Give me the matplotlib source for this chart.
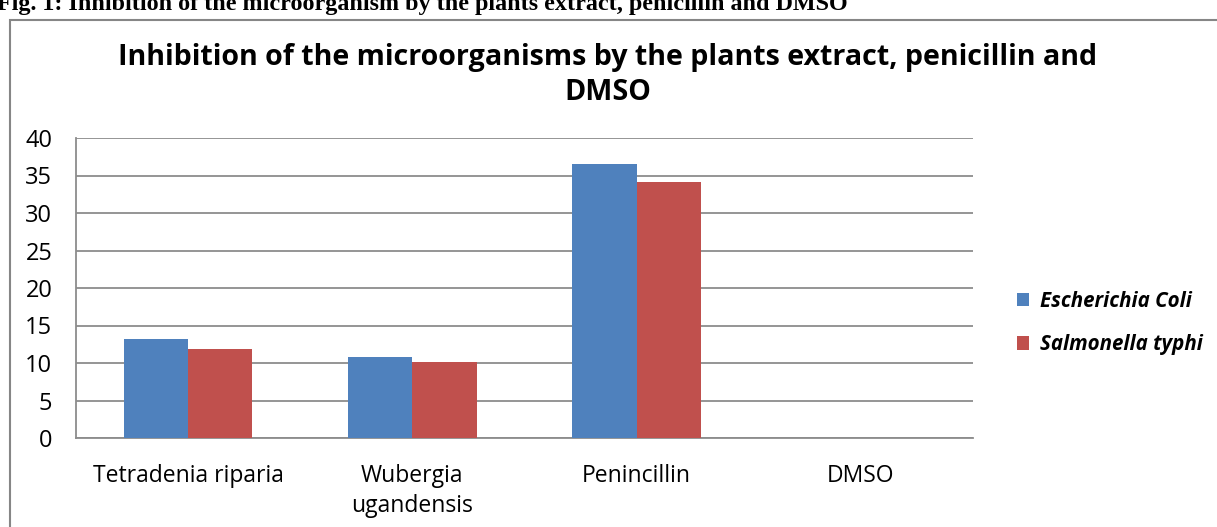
import numpy as np
import matplotlib.pyplot as plt
from matplotlib.patches import Rectangle

# ================= data =================
categories = ["Tetradenia riparia", "Wubergia\nugandensis", "Penincillin", "DMSO"]
e_coli = [13.2, 10.8, 36.5, 0]
s_typhi = [11.9, 10.1, 34.2, 0]
series_names = ["Escherichia Coli", "Salmonella typhi"]
y_ticks = [0, 5, 10, 15, 20, 25, 30, 35, 40]

BLUE = "#4f81bd"
RED = "#c0504d"
GRID = "#8c8c8c"

plt.rcParams['font.family'] = ['Open Sans', 'DejaVu Sans']

fig = plt.figure(figsize=(12.17, 5.27), dpi=100)
ax = fig.add_axes([76 / 1217, 1 - 438 / 527, 897 / 1217, 300 / 527])

x = np.arange(len(categories))
w = 0.286
ax.bar(x - w / 2, e_coli, width=w, color=BLUE, label=series_names[0], zorder=3)
ax.bar(x + w / 2, s_typhi, width=w, color=RED, label=series_names[1], zorder=3)

ax.set_xlim(-0.5, len(categories) - 0.5)
ax.set_ylim(0, 40)
ax.set_yticks(y_ticks)
ax.set_xticks(x)
ax.set_xticklabels(categories, fontsize=16.5, linespacing=1.3)
ax.tick_params(axis='y', labelsize=17, length=0, pad=17)
ax.tick_params(axis='x', length=0, pad=19)
ax.yaxis.grid(True, color=GRID, linewidth=1.3, zorder=0)
for s in ["top", "right"]:
    ax.spines[s].set_visible(False)
for s in ["left", "bottom"]:
    ax.spines[s].set_color(GRID)
    ax.spines[s].set_linewidth(1.3)

# chart title
fig.text(608 / 1217, 1 - 75 / 527,
         "Inhibition of the microorganisms by the plants extract, penicillin and\nDMSO",
         ha='center', va='center', fontsize=20.6, fontweight='bold', linespacing=1.25)

# legend
leg = fig.legend(loc='center left', bbox_to_anchor=(998 / 1217, 1 - 323 / 527),
                 frameon=False, handlelength=0.63, handleheight=0.63,
                 labelspacing=1.1, handletextpad=0.5,
                 prop={'style': 'italic', 'weight': 'bold', 'size': 14.8})

# outer chart border and the figure caption above it
fig.patches.append(Rectangle((10 / 1217, -0.1), 1.1, 1 - 20 / 527 + 0.1,
                             transform=fig.transFigure, fill=False,
                             edgecolor="#868686", linewidth=1.5, clip_on=False))
fig.text(-3 / 1217, 1 - 10 / 527,
         "Fig. 1: Inhibition of the microorganism by the plants extract, penicillin and DMSO",
         ha='left', va='baseline', fontsize=17.4, fontweight='bold',
         family=['Liberation Serif', 'DejaVu Serif'])

fig.savefig("out.png", dpi=100)
plt.close(fig)
